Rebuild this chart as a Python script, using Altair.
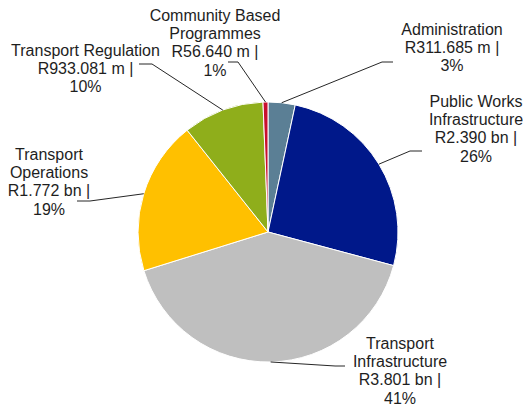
import altair as alt
import pandas as pd

# ---- data ----
categories = ["Administration", "Public Works Infrastructure", "Transport Infrastructure",
              "Transport Operations", "Transport Regulation", "Community Based Programmes"]
values_m = [311.685, 2390.0, 3801.0, 1772.0, 933.081, 56.640]
amount_labels = ["R311.685 m |", "R2.390 bn |", "R3.801 bn |", "R1.772 bn |", "R933.081 m |", "R56.640 m |"]
pct_labels = ["3%", "26%", "41%", "19%", "10%", "1%"]
name_lines = [["Administration"], ["Public Works", "Infrastructure"], ["Transport", "Infrastructure"],
              ["Transport", "Operations"], ["Transport Regulation"], ["Community Based", "Programmes"]]
colors = ["#5B7F95", "#00188A", "#BFBFBF", "#FFC000", "#8FAE1B", "#C8102E"]

# ---- layout (chart pixels) ----
CX, CY, R = 260, 224, 130
label_x = [444, 468, 392, 41, 77.5, 207]
label_y = [27, 99, 341, 152, 48, 13]
elbow_x = [374, 402, 327, 82, 144, 230]
elbow_y = [54, 143, 358, 193, 56, 54]
end_x = [385, 414, 337, 69, 131, 220]
end_y = [54, 143, 358, 193, 56, 54]

df = pd.DataFrame({
    "cat": categories,
    "value": values_m,
    "idx": list(range(len(categories))),
    "label": ["\n".join(n + [a, p]) for n, a, p in zip(name_lines, amount_labels, pct_labels)],
    "lx": label_x, "ly": label_y,
    "bx": elbow_x, "by": elbow_y,
    "ex": end_x, "ey": end_y,
})

base = alt.Chart(df)

pie = base.mark_arc(outerRadius=R, stroke="white", strokeWidth=1).encode(
    theta=alt.Theta("value:Q", stack=True),
    color=alt.Color("cat:N", scale=alt.Scale(domain=categories, range=colors), legend=None),
    order=alt.Order("idx:Q"),
    x=alt.value(CX),
    y=alt.value(CY),
)

leader_base = base.transform_joinaggregate(
    total="sum(value)"
).transform_window(
    cum="sum(value)", sort=[alt.SortField("idx")], frame=[None, 0]
).transform_calculate(
    mid="(datum.cum - datum.value/2) / datum.total * 2 * PI",
    sx=f"{CX} + {R} * sin(datum.mid)",
    sy=f"{CY} - {R} * cos(datum.mid)",
)

rule1 = leader_base.mark_rule(color="#262626", strokeWidth=1).encode(
    x=alt.X("sx:Q", scale=None, axis=None),
    y=alt.Y("sy:Q", scale=None, axis=None),
    x2="bx:Q",
    y2="by:Q",
)
rule2 = base.mark_rule(color="#262626", strokeWidth=1).encode(
    x=alt.X("bx:Q", scale=None, axis=None),
    y=alt.Y("by:Q", scale=None, axis=None),
    x2="ex:Q",
    y2="ey:Q",
)

labels = base.mark_text(
    lineBreak="\n", lineHeight=18.2, align="center", baseline="alphabetic",
    font="Liberation Sans", fontSize=16, color="#1E1E1E",
).encode(
    x=alt.X("lx:Q", scale=None, axis=None),
    y=alt.Y("ly:Q", scale=None, axis=None),
    text="label:N",
)

chart = alt.layer(pie, rule1, rule2, labels).properties(
    width=515, height=400, autosize=alt.AutoSizeParams(type="none"), padding=0
).configure_view(stroke=None)

chart.save("out.html", embed_options={"renderer": "svg", "actions": False})
